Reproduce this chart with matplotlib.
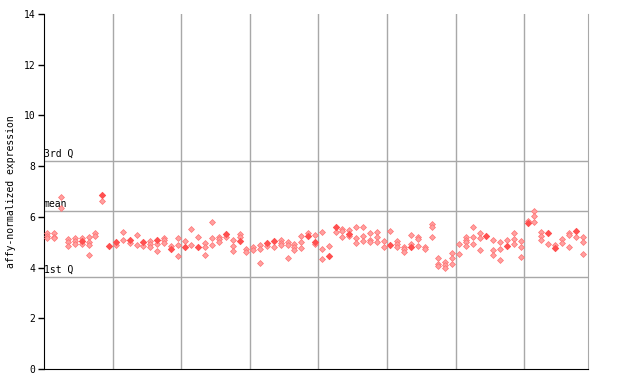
import matplotlib
matplotlib.use("Agg")
import matplotlib.pyplot as plt

# expression values per sample column (replicates)
sample_values = [
    [5.35, 5.25, 5.15], [5.35, 5.2, 5.15], [6.77, 6.34], [5.11, 4.99, 4.87],
    [5.18, 5.06, 4.94], [5.18, 5.06, 4.94], [5.19, 5.02, 4.89, 4.50], [5.38, 5.26],
    [6.86, 6.62], [4.85], [5.0, 4.88], [5.39, 5.09],
    [5.09, 4.95], [5.28, 4.89], [5.02, 4.85], [5.05, 4.93, 4.81],
    [5.07, 4.94, 4.65], [5.15, 5.07, 4.98], [4.85, 4.72], [5.18, 4.89, 4.46],
    [5.06, 4.82], [5.52, 4.89], [5.19, 4.82], [4.95, 4.82, 4.50],
    [5.80, 5.15, 4.89], [5.21, 5.11, 5.02], [5.34, 5.21], [5.09, 4.85, 4.65],
    [5.31, 5.19, 5.06], [4.73, 4.63], [4.81, 4.70], [4.89, 4.73, 4.17],
    [4.98, 4.85], [5.06, 4.80], [5.09, 4.98, 4.89], [4.99, 4.89, 4.36],
    [4.93, 4.80, 4.68], [5.24, 5.02, 4.77], [5.35, 5.24], [5.28, 5.02, 4.91],
    [5.39, 4.72, 4.32], [4.85, 4.47], [5.61, 5.41], [5.54, 5.45, 5.19],
    [5.47, 5.32, 5.24], [5.59, 5.15, 4.95], [5.59, 5.26, 5.05], [5.35, 5.09, 4.99],
    [5.39, 5.21, 4.99], [5.05, 4.80], [5.44, 4.89], [5.05, 4.93, 4.81],
    [4.82, 4.72, 4.63], [5.28, 4.93, 4.82], [5.21, 5.11, 4.85], [4.82, 4.73],
    [5.72, 5.59, 5.19], [4.36, 4.14, 4.05], [4.21, 4.10, 3.97], [4.56, 4.38, 4.14],
    [4.91, 4.52], [5.19, 5.09, 4.99, 4.86], [5.59, 5.21, 4.91], [5.35, 5.15, 4.69],
    [5.26], [5.09, 4.69, 4.50], [4.99, 4.72, 4.30], [5.09, 4.86],
    [5.35, 5.11, 4.91], [5.05, 4.80, 4.40], [5.85, 5.77], [6.23, 6.03, 5.81],
    [5.41, 5.26, 5.09], [5.38, 4.91], [4.89, 4.76], [5.11, 4.95],
    [5.38, 5.28, 4.82], [5.45, 5.21], [5.19, 4.99, 4.52],
]

# (column, value) of the solid highlighted points
solid_points = [
    (5, 5.06), (8, 6.86), (9, 4.85), (10, 5.0), (12, 5.09), (14, 5.02),
    (16, 5.07), (18, 4.72), (20, 4.82), (22, 4.82), (26, 5.34), (28, 5.06),
    (32, 4.98), (33, 5.06), (38, 5.24), (39, 5.02), (41, 4.47), (42, 5.61),
    (44, 5.32), (50, 4.89), (53, 4.82), (64, 5.26), (67, 4.86), (70, 5.77),
    (73, 5.38), (74, 4.76), (77, 5.45),
]

quartile_lines = {"3rd Q": 8.22, "mean": 6.22, "1st Q": 3.63}
y_ticks = [0, 2, 4, 6, 8, 10, 12, 14]
group_edges = [9.5, 19.5, 29.5, 39.5, 49.5, 59.5, 69.5]

fig = plt.figure(figsize=(6.4, 3.84), dpi=100)
ax = fig.add_axes([44 / 640, 15 / 384, 544 / 640, 355 / 384])

font = {"family": "DejaVu Sans Mono", "size": 7}

# grid lines
for xg in group_edges:
    ax.axvline(xg, color="#a8a8a8", lw=1, zorder=1)
for label, yv in quartile_lines.items():
    ax.axhline(yv, color="#a8a8a8", lw=1, zorder=1)
    ax.text(0.0, yv + 0.08, label, transform=ax.get_yaxis_transform(),
            ha="left", va="bottom", fontdict=font, zorder=2)

# replicate points
xs, ys = [], []
for i, vals in enumerate(sample_values):
    for v in vals:
        xs.append(i)
        ys.append(v)
ax.scatter(xs, ys, marker="D", s=9, facecolor="#ffa0a0", edgecolor="#ff7070",
           linewidths=0.5, zorder=3)

sx = [p[0] for p in solid_points]
sy = [p[1] for p in solid_points]
ax.scatter(sx, sy, marker="D", s=14, color="#ff5050", linewidths=0, zorder=4)

ax.set_xlim(-0.5, 78.8)
ax.set_ylim(0, 14)
ax.set_xticks([])
ax.set_yticks(y_ticks)
ax.set_yticklabels([str(t) for t in y_ticks], fontdict=font)
ax.tick_params(axis="y", direction="out", length=4, width=1, pad=2)
ax.set_ylabel("affy-normalized expression", fontdict=font, labelpad=6)

ax.spines["top"].set_visible(False)
ax.spines["right"].set_color("#a8a8a8")
ax.spines["left"].set_color("black")
ax.spines["bottom"].set_color("black")

fig.savefig("out.png", dpi=100)
